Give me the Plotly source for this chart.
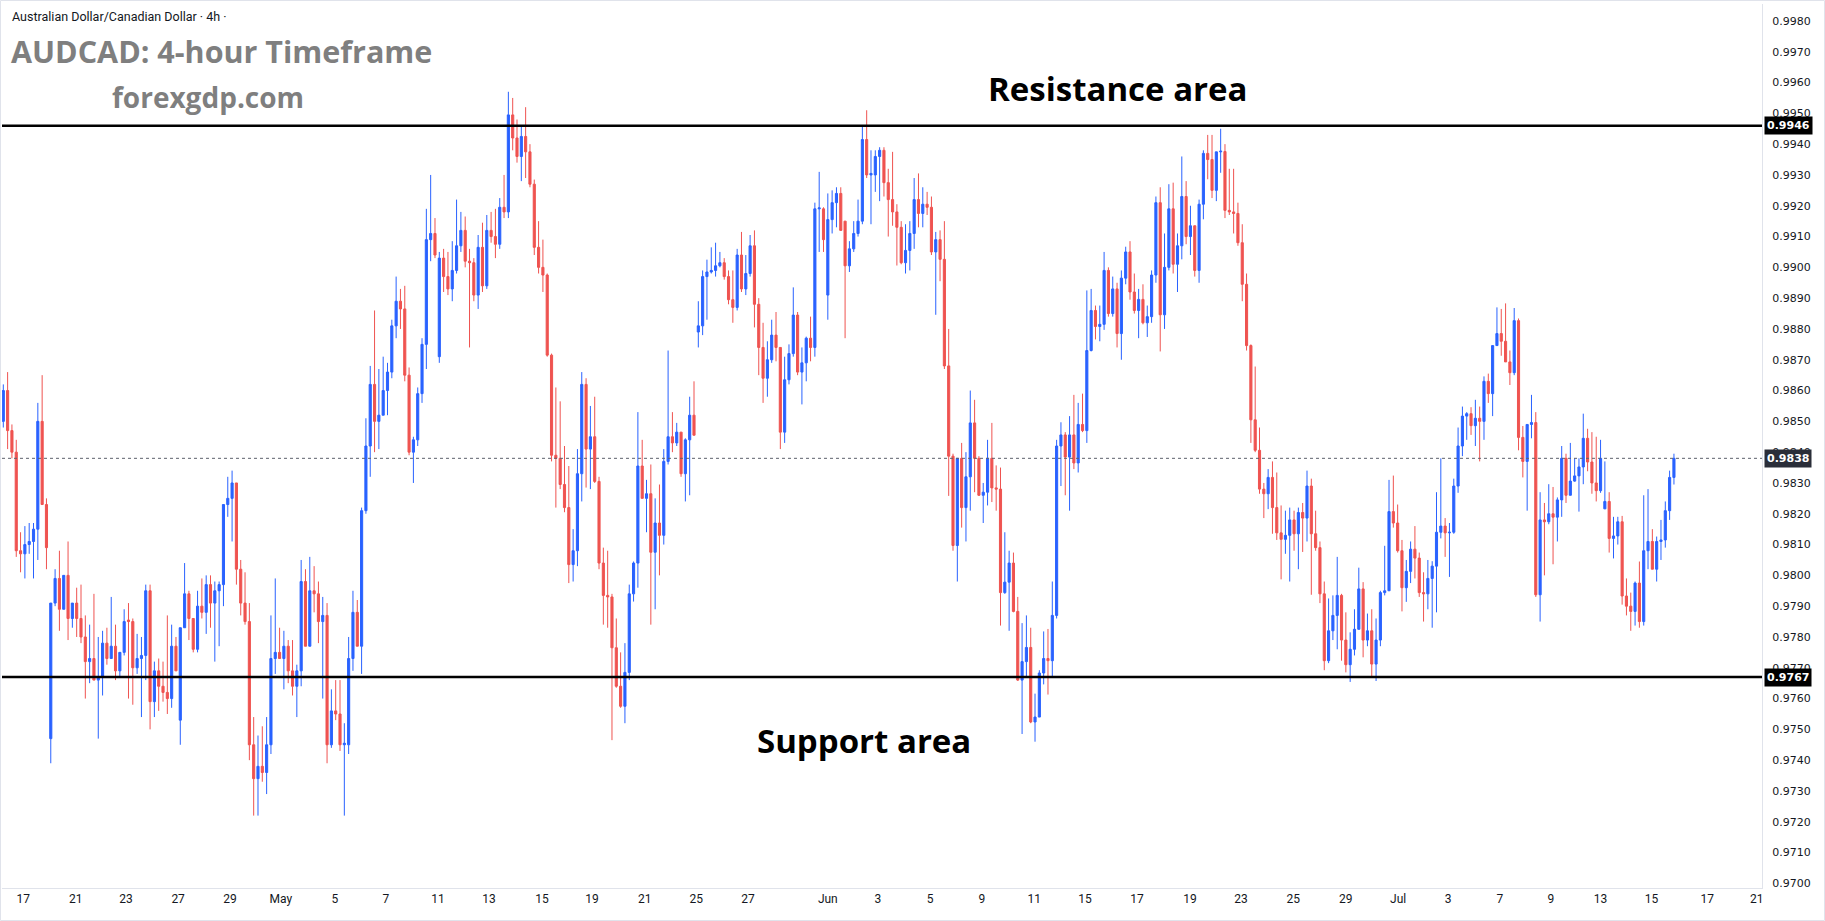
import plotly.graph_objects as go

# ---------------- data (prices in units of 0.0001) ----------------
open_p = [
 9850, 9860, 9847, 9840, 9808, 9807, 9810, 9811, 9815, 9850,
 9823, 9747, 9791, 9799, 9789, 9800, 9786, 9791, 9786, 9780,
 9772, 9773, 9766, 9767, 9778, 9773, 9777, 9769, 9775, 9785.5,
 9785, 9770, 9773, 9774, 9795, 9759, 9769, 9764, 9762, 9760,
 9777, 9753, 9783, 9794, 9786, 9776, 9790, 9788, 9797, 9791,
 9795, 9797, 9823, 9825, 9830, 9802, 9791, 9785, 9745, 9734,
 9738, 9736, 9745, 9773, 9775, 9773, 9777, 9769, 9764, 9769,
 9798, 9777, 9795, 9794, 9785, 9787, 9745, 9756, 9755, 9745,
 9745, 9773, 9788, 9777, 9821, 9842, 9862, 9850, 9852, 9860,
 9866, 9881, 9889, 9886.5, 9865, 9840, 9844, 9859, 9875, 9909,
 9911, 9871, 9903, 9897, 9893, 9899, 9907, 9912, 9902, 9901.5,
 9891, 9906.5, 9894, 9912, 9910, 9907.5, 9919.5, 9918, 9949.5, 9942,
 9936, 9942.5, 9937.5, 9927, 9906.5, 9900, 9897.5, 9871.5, 9839, 9838,
 9829.5, 9822, 9803.5, 9808, 9833, 9862, 9841, 9845, 9830.5, 9804,
 9793.5, 9793, 9776.5, 9764, 9757.5, 9768.5, 9794, 9804, 9835.5, 9825,
 9826.5, 9807.5, 9817, 9813, 9837, 9845, 9843, 9846.5, 9833, 9844,
 9852, 9879, 9881, 9897, 9898.5, 9899, 9900.5, 9901.5, 9897, 9889.5,
 9887, 9904, 9893, 9898, 9907, 9888, 9874, 9864, 9870, 9878,
 9874, 9846.5, 9863.5, 9872, 9884.5, 9866, 9869, 9877, 9874, 9919,
 9919, 9891, 9915.5, 9921, 9924, 9915, 9900.5, 9906, 9911, 9915,
 9941.5, 9930, 9930, 9936, 9938, 9927.5, 9922, 9918, 9913, 9901.5,
 9905.5, 9911, 9922, 9917.5, 9920.5, 9919.5, 9905, 9909, 9902.6, 9868,
 9838.7, 9809.7, 9838, 9822, 9832, 9849.5, 9838, 9826, 9827, 9838,
 9828.4, 9828, 9794.4, 9797.8, 9804, 9788.3, 9766, 9772, 9776.6, 9752.4,
 9754, 9768.3, 9773, 9772.3, 9787, 9842, 9845.6, 9838.4, 9845.6, 9836.5,
 9849, 9847, 9873, 9886, 9880.8, 9881.5, 9899, 9885, 9893, 9878.5,
 9896.5, 9905, 9892, 9886, 9889.6, 9882, 9884, 9897.5, 9921, 9884.6,
 9900, 9919, 9901, 9907, 9923, 9910, 9913.5, 9899, 9920.5, 9937,
 9935, 9925, 9937.5, 9937.6, 9918.5, 9918, 9917.5, 9908, 9894.5, 9874.6,
 9850.5, 9840.6, 9828, 9826.5, 9831.8, 9822, 9813.8, 9811.7, 9813, 9818,
 9813.5, 9820.4, 9818.6, 9829, 9813.5, 9809, 9794, 9772.3, 9782, 9787,
 9793.5, 9779, 9771, 9776, 9782.5, 9795.6, 9779, 9782, 9771.2, 9779,
 9794.4, 9795, 9820.7, 9817, 9808, 9796, 9801.3, 9808.5, 9805.6, 9794.4,
 9794, 9799, 9803, 9814, 9816, 9813.8, 9814, 9829, 9842, 9851.7,
 9852.5, 9848.6, 9851, 9850, 9863, 9859, 9874.6, 9878.5, 9876, 9869.3,
 9865.8, 9882.7, 9844.8, 9837, 9849, 9849.6, 9793.7, 9818, 9817.4, 9820,
 9818.9, 9824.5, 9838, 9826, 9830.6, 9832.3, 9835.2, 9844.5, 9836.8, 9830,
 9827.5, 9821.6, 9824, 9812, 9812.8, 9817.4, 9793.3, 9790, 9788.3, 9797.5,
 9785, 9808, 9811, 9802, 9811, 9811.5, 9821, 9831.8,
]
high_p = [
 9862, 9866, 9849, 9844, 9814, 9816, 9817, 9817, 9856, 9865,
 9825, 9791, 9802, 9808, 9800, 9811, 9791, 9796, 9797, 9787,
 9784, 9794, 9780, 9782, 9783, 9793, 9784, 9775, 9789, 9791,
 9786, 9781, 9780, 9797, 9797, 9772, 9773, 9772, 9787, 9784,
 9780, 9783, 9804, 9795, 9786, 9795, 9799, 9800, 9800, 9798,
 9798, 9823, 9832, 9834, 9830, 9805, 9801, 9791, 9754, 9748,
 9751, 9754, 9787, 9799, 9783, 9782, 9779, 9779, 9771, 9805,
 9802, 9806, 9803, 9798, 9793, 9791, 9763, 9766, 9766, 9752,
 9780, 9795, 9792, 9822, 9851, 9868, 9886, 9867, 9871, 9869,
 9883, 9897, 9893, 9894, 9867.5, 9845, 9861, 9877, 9919, 9930,
 9916, 9905, 9906, 9905, 9908.5, 9922, 9918, 9916.5, 9906, 9903,
 9910.5, 9914.5, 9917, 9918, 9919, 9922.5, 9930, 9957, 9955, 9948,
 9946, 9952, 9940, 9928.5, 9915, 9909, 9898, 9872, 9861, 9856.5,
 9842, 9835.5, 9815, 9841, 9866, 9864, 9855, 9858, 9832, 9809,
 9808, 9794, 9786, 9775, 9778, 9797, 9804.5, 9853, 9844, 9831,
 9836, 9825, 9829.5, 9841, 9873, 9853, 9849.5, 9846.5, 9844.5, 9858,
 9863, 9889, 9899, 9902.5, 9906.5, 9908, 9905, 9903, 9899, 9899,
 9906, 9911.5, 9904, 9910.5, 9912, 9890, 9882, 9876, 9883, 9885.5,
 9874, 9871, 9875, 9893.5, 9885.5, 9874, 9877.5, 9884, 9921, 9931,
 9919.5, 9924, 9925, 9926, 9926, 9915, 9908.5, 9915, 9922, 9946,
 9951, 9938, 9938, 9939, 9939, 9932, 9937.5, 9920.5, 9915, 9914,
 9915, 9929, 9930.5, 9926, 9924.5, 9923, 9911.5, 9912, 9915, 9880,
 9839.5, 9838, 9843, 9840, 9860, 9857, 9838.7, 9830, 9844, 9849.5,
 9835.7, 9835, 9814, 9808, 9807.4, 9793, 9784.5, 9787, 9783, 9761.6,
 9769.2, 9781.8, 9782.6, 9798, 9844, 9849.7, 9846.5, 9851.7, 9858.6, 9856,
 9859, 9892.5, 9893, 9887.6, 9887.6, 9905, 9900, 9897, 9895, 9899,
 9906.7, 9908.5, 9898, 9893, 9894.5, 9887.6, 9899, 9923, 9926, 9911,
 9927, 9927.5, 9911, 9936, 9928, 9920, 9913.5, 9922, 9938, 9943,
 9943, 9937.5, 9945, 9940, 9932, 9932, 9921, 9914, 9898, 9875,
 9867.8, 9848, 9830, 9834.5, 9837, 9833.4, 9822.7, 9821, 9822, 9821,
 9822, 9823.5, 9834, 9831.4, 9821, 9811, 9798, 9792.5, 9793.5, 9806,
 9794, 9788, 9781.5, 9789, 9802.5, 9797.8, 9787.6, 9789, 9786, 9795,
 9809.6, 9831, 9832.4, 9823, 9811.5, 9805, 9811, 9816, 9807.4, 9801,
 9805, 9804.6, 9827, 9838, 9818.6, 9817, 9831.4, 9848, 9854.8, 9853,
 9854.6, 9857, 9854.8, 9864.6, 9865.5, 9874.6, 9887, 9886.5, 9888.3, 9873,
 9886.8, 9883.4, 9848.5, 9849, 9858.6, 9853, 9827, 9823.5, 9829.6, 9828.7,
 9825.3, 9842, 9839.5, 9843, 9838, 9838, 9852.5, 9847.6, 9846.5, 9845,
 9844, 9837, 9827, 9819, 9819, 9819.3, 9799, 9794.4, 9798, 9804.5,
 9826, 9828, 9815, 9812.6, 9818, 9824, 9834, 9839.5,
]
low_p = [
 9848, 9841, 9838, 9806, 9801, 9799, 9807, 9799, 9805, 9823,
 9802, 9739, 9790, 9782, 9789, 9779, 9783, 9780, 9778, 9760,
 9765, 9766, 9747, 9761, 9771, 9773, 9766, 9767, 9774, 9760,
 9758, 9768, 9754, 9766, 9750, 9754, 9756, 9759, 9755, 9757,
 9769, 9745, 9783, 9779, 9775, 9775, 9786, 9781, 9783, 9772,
 9777, 9790, 9819, 9811, 9797, 9787, 9784, 9740, 9722, 9722,
 9733, 9729, 9742, 9768, 9773, 9763, 9765, 9761, 9754, 9764,
 9777, 9777, 9788, 9778, 9760, 9739, 9744, 9753, 9743, 9722,
 9742, 9769, 9777, 9768, 9820, 9832, 9840, 9841, 9852, 9852,
 9864, 9877, 9880, 9863, 9839, 9830, 9842, 9856, 9867, 9902,
 9903, 9869, 9892, 9891, 9889, 9898, 9905, 9900, 9874, 9889,
 9886.5, 9892, 9893, 9908, 9903, 9906, 9916, 9916, 9938, 9934,
 9928, 9929, 9926, 9904, 9898, 9892, 9871, 9837, 9822, 9828,
 9820.5, 9797.5, 9798, 9803, 9824, 9828.5, 9828, 9830, 9802, 9784,
 9783, 9746.5, 9763.5, 9757, 9752, 9766, 9791.5, 9796, 9825, 9814,
 9784, 9789, 9800, 9810, 9836, 9840, 9842, 9832, 9824, 9826,
 9845.5, 9874, 9878, 9883, 9898, 9897, 9900, 9896, 9888, 9882,
 9886, 9892, 9891, 9897, 9880.5, 9865, 9856, 9858, 9869, 9869.5,
 9841, 9843, 9862, 9871, 9865, 9855.5, 9863, 9869.5, 9871, 9905,
 9905, 9883, 9911, 9913, 9912, 9877, 9898.5, 9905, 9910, 9914,
 9929, 9914, 9924.5, 9921.5, 9923, 9910, 9913.5, 9900.6, 9901, 9898,
 9899, 9906, 9913, 9913, 9917, 9904, 9884.6, 9895.5, 9867, 9825.8,
 9808, 9798, 9815.5, 9811, 9821, 9827, 9825.8, 9817, 9822.7, 9823.8,
 9821, 9783.7, 9794, 9782, 9788, 9765.7, 9748.5, 9767, 9752, 9746,
 9754, 9764.6, 9761.3, 9767, 9786, 9829, 9826, 9821, 9834.5, 9833.4,
 9846.5, 9843, 9872.7, 9876.6, 9876, 9879.7, 9884, 9884, 9874, 9870,
 9894.5, 9889.5, 9885, 9877, 9881.5, 9877.4, 9882, 9895, 9872.7, 9880,
 9899, 9898, 9892, 9902.6, 9907.5, 9904, 9897, 9895, 9915.6, 9928.6,
 9922.5, 9921.5, 9930.7, 9916, 9917, 9911, 9907, 9889, 9873, 9843,
 9840, 9826.5, 9818.6, 9821.5, 9813.5, 9811.5, 9798.7, 9807, 9798, 9808,
 9802, 9807.6, 9811, 9793.7, 9808, 9791, 9769.2, 9771.5, 9779, 9776,
 9772.3, 9768.5, 9765.4, 9774, 9782.4, 9773.4, 9777, 9767, 9765.7, 9777,
 9793.5, 9795, 9815.5, 9807.4, 9788.3, 9791.4, 9797.5, 9799, 9793, 9785,
 9789, 9783, 9788, 9812, 9806, 9799.5, 9813.5, 9826.8, 9838.7, 9844,
 9845.6, 9842, 9837, 9844, 9856, 9851.7, 9874.6, 9871.3, 9869.3, 9861.8,
 9865, 9840.6, 9831.8, 9821, 9844.5, 9793, 9785, 9800, 9816.6, 9803.6,
 9811, 9819, 9823.5, 9826, 9830.4, 9820.7, 9829.6, 9833.8, 9826.5, 9824,
 9826.8, 9821.5, 9807.4, 9805.5, 9810, 9790.5, 9787, 9782, 9783.7, 9783,
 9783.7, 9802, 9802, 9798, 9805, 9809, 9818, 9829.5,
]
close_p = [
 9860, 9847, 9840, 9808, 9807, 9810, 9811, 9815, 9850, 9823,
 9809, 9791, 9799, 9789, 9800, 9786, 9791, 9786, 9780, 9772,
 9773, 9766, 9767, 9778, 9773, 9777, 9769, 9775, 9785, 9785,
 9770, 9773, 9774, 9795, 9759, 9769, 9764, 9762, 9760, 9777,
 9769, 9783, 9794, 9786, 9776, 9790, 9788, 9797, 9791, 9795,
 9797, 9823, 9825, 9830, 9802, 9791, 9785, 9745, 9734, 9738,
 9736, 9745, 9773, 9775, 9773, 9777, 9769, 9764, 9769, 9798,
 9777, 9795, 9794, 9785, 9787, 9745, 9756, 9755, 9745, 9745.5,
 9773, 9788, 9777, 9821, 9842, 9862, 9850, 9852, 9860, 9866,
 9881, 9889, 9886.5, 9865, 9840, 9844, 9859, 9875, 9909, 9911,
 9904, 9903, 9897, 9893, 9899, 9907, 9912, 9902, 9901.5, 9891,
 9906.5, 9894, 9912, 9910, 9907.5, 9919.5, 9918, 9949.5, 9942, 9936,
 9942.5, 9937.5, 9927, 9906.5, 9900, 9897.5, 9871.5, 9839, 9838, 9829.5,
 9822, 9803.5, 9808, 9833, 9862, 9841, 9845, 9830.5, 9804, 9793.5,
 9793, 9776.5, 9764, 9757.5, 9768.5, 9794, 9804, 9835.5, 9825, 9826.5,
 9807.5, 9817, 9813, 9837, 9845, 9843, 9846.5, 9833, 9844, 9852,
 9845.5, 9881, 9897, 9898.5, 9899, 9900.5, 9901.5, 9897, 9889.5, 9887,
 9904, 9893, 9898, 9907, 9888, 9874, 9864, 9870, 9878, 9874,
 9846.5, 9863.5, 9872, 9884.5, 9866, 9869, 9877, 9874, 9919, 9919.3,
 9909, 9915.5, 9921, 9924, 9912, 9900.5, 9906, 9911, 9915, 9941.5,
 9930, 9930.5, 9936, 9938, 9927.5, 9922, 9918, 9913, 9901.5, 9905.5,
 9911, 9922, 9917.5, 9920.5, 9919.5, 9905, 9909, 9902.6, 9868, 9838.7,
 9809.7, 9838, 9822, 9832, 9849.5, 9838, 9826, 9827, 9838, 9828.4,
 9828, 9794.4, 9797.8, 9804, 9788.3, 9766, 9772, 9776.6, 9752.4, 9754,
 9768.3, 9773, 9772.3, 9787, 9842, 9845.6, 9838.4, 9845.6, 9836.5, 9849,
 9847, 9873, 9886, 9880.8, 9881.5, 9899, 9885, 9893, 9878.5, 9896.5,
 9905, 9892, 9886, 9889.6, 9882, 9884, 9897.5, 9921, 9884.6, 9900,
 9919, 9901, 9907, 9923, 9910, 9913.5, 9899, 9920.5, 9937, 9935,
 9925, 9937.5, 9937.7, 9918.5, 9918, 9917.5, 9908, 9894.5, 9874.6, 9850.5,
 9840.6, 9828, 9826.5, 9831.8, 9822, 9813.8, 9811.7, 9813, 9818, 9813.5,
 9820.4, 9818.6, 9829, 9813.5, 9809, 9794, 9772.3, 9782, 9787, 9793.5,
 9779, 9771, 9776, 9782.5, 9795.6, 9779, 9782, 9771.2, 9779, 9794.4,
 9795, 9820.7, 9817, 9808, 9796, 9801.3, 9808.5, 9805.6, 9794.4, 9794,
 9799, 9803, 9814, 9816, 9813.8, 9814, 9829, 9842, 9851.7, 9852.5,
 9848.6, 9851, 9850, 9863, 9859, 9874.6, 9878.5, 9876, 9869.3, 9865.8,
 9882.7, 9844.8, 9837, 9849, 9849.6, 9793.7, 9818, 9817.4, 9820, 9818.9,
 9824.5, 9838, 9826, 9830.6, 9832.3, 9835.2, 9844.5, 9836.8, 9830, 9827.5,
 9838, 9824, 9812, 9812.8, 9817.4, 9793.3, 9790, 9788.3, 9797.5, 9785,
 9808, 9811, 9802, 9811, 9811.5, 9821, 9831.8, 9838,
]

# date labels (bar index where each label sits) and their text
tick_labels = ["17", "21", "23", "27", "29", "May", "5", "7", "11", "13", "15", "19",
               "21", "25", "27", "Jun", "3", "5", "9", "11", "15", "17", "19", "23",
               "25", "29", "Jul", "3", "7", "9", "13", "15", "17", "21"]
tick_bars = [4.6, 16.8, 28.4, 40.5, 52.5, 64.3, 76.8, 88.6, 100.7, 112.5, 124.8, 136.4,
             148.6, 160.5, 172.5, 191.0, 202.6, 214.7, 226.7, 238.8, 250.6, 262.6, 274.9, 286.7,
             298.8, 311.0, 323.1, 334.7, 346.7, 358.5, 370.0, 381.8, 394.7, 406.2]

resistance_level = 0.9946
support_level = 0.9767
last_price = 0.9838

# ---------------- build ----------------
S = 1e-4
o = [v * S for v in open_p]
c = [v * S for v in close_p]
h = [max(a, b, d) * S for a, b, d in zip(high_p, open_p, close_p)]
l = [min(a, b, d) * S for a, b, d in zip(low_p, open_p, close_p)]
x = list(range(len(o)))

UP = "#2962FF"
DOWN = "#EF5350"

fig = go.Figure()
fig.add_trace(go.Candlestick(
    x=x, open=o, high=h, low=l, close=c,
    increasing=dict(line=dict(color=UP, width=1), fillcolor=UP),
    decreasing=dict(line=dict(color=DOWN, width=1), fillcolor=DOWN),
    whiskerwidth=0, showlegend=False, hoverinfo="skip",
))

W, H = 1825, 921
ML, MR, MT, MB = 2, 63, 4, 33
pw, ph = W - ML - MR, H - MT - MB

def px_x(p):
    return (p - ML) / pw

def px_y(p):
    return 1 - (p - MT) / ph

shapes = [
    dict(type="line", xref="paper", yref="y", x0=0, x1=1, y0=resistance_level, y1=resistance_level,
         line=dict(color="#000000", width=2.5)),
    dict(type="line", xref="paper", yref="y", x0=0, x1=1, y0=support_level, y1=support_level,
         line=dict(color="#000000", width=2.5)),
    dict(type="line", xref="paper", yref="y", x0=0, x1=1, y0=last_price, y1=last_price,
         line=dict(color="#5d606b", width=1, dash="dot")),
    dict(type="rect", xref="paper", yref="paper", x0=px_x(0.5), x1=px_x(W - 0.5),
         y0=px_y(H - 0.5), y1=px_y(0.5), line=dict(color="#E0E3EB", width=1)),
]

TXT = "#131722"
GREY = "#7f7f7f"
annotations = [
    dict(text="Australian Dollar/Canadian Dollar · 4h ·", xref="paper", yref="paper",
         x=px_x(10), y=px_y(17), xanchor="left", yanchor="middle", showarrow=False,
         font=dict(family="Roboto", size=12.5, color=TXT)),
    dict(text="<b>AUDCAD: 4-hour Timeframe</b>", xref="paper", yref="paper",
         x=px_x(9), y=px_y(51), xanchor="left", yanchor="middle", showarrow=False,
         font=dict(family="Open Sans", size=30.5, color=GREY)),
    dict(text="<b>forexgdp.com</b>", xref="paper", yref="paper",
         x=px_x(110), y=px_y(97), xanchor="left", yanchor="middle", showarrow=False,
         font=dict(family="Open Sans", size=28, color=GREY)),
    dict(text="<b>Resistance area</b>", xref="paper", yref="paper",
         x=px_x(1118), y=px_y(88), xanchor="center", yanchor="middle", showarrow=False,
         font=dict(family="Open Sans", size=33, color="#000000")),
    dict(text="<b>Support area</b>", xref="paper", yref="paper",
         x=px_x(864), y=px_y(740), xanchor="center", yanchor="middle", showarrow=False,
         font=dict(family="Open Sans", size=33, color="#000000")),
]
for lvl, bg in [(resistance_level, "#000000"), (support_level, "#000000"), (last_price, "#2a2e39")]:
    annotations.append(dict(
        text=f"<b>{lvl:.4f}</b>", xref="paper", yref="y", x=1, y=lvl,
        xanchor="left", yanchor="middle", xshift=2, showarrow=False,
        bgcolor=bg, borderpad=2, font=dict(family="DejaVu Sans", size=11, color="#ffffff"),
    ))

fig.update_layout(
    width=W, height=H, margin=dict(l=ML, r=MR, t=MT, b=MB),
    paper_bgcolor="#ffffff", plot_bgcolor="#ffffff",
    shapes=shapes, annotations=annotations, showlegend=False,
    xaxis=dict(range=[-0.3, 407.4], tickvals=tick_bars, ticktext=tick_labels,
               showgrid=False, zeroline=False, showline=True, linecolor="#E0E3EB",
               rangeslider=dict(visible=False), ticks="",
               tickfont=dict(family="Roboto", size=12, color=TXT)),
    yaxis=dict(side="right", range=[0.96985, 0.99855], dtick=0.001, tick0=0, tickformat=".4f",
               showgrid=False, zeroline=False, showline=True, linecolor="#E0E3EB", ticks="",
               ticklabelstandoff=7,
               tickfont=dict(family="DejaVu Sans", size=11, color=TXT)),
)

fig.write_html("out.html")
